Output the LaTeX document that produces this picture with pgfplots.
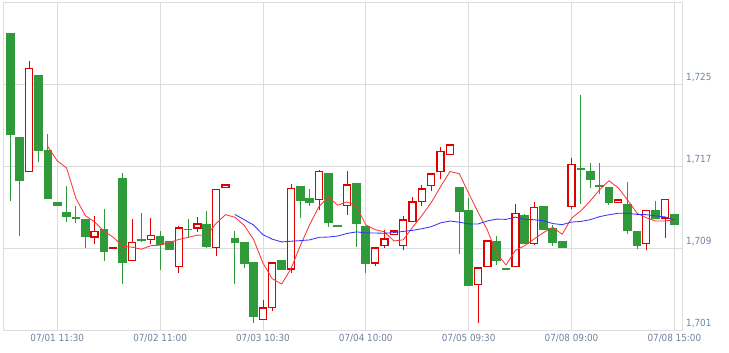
\documentclass[border=0pt]{standalone}
\usepackage{fontspec}
\setmainfont{DejaVu Sans}[FakeStretch=0.9]
\usepackage{pgfplots}
\usepackage{pgfplotstable}
\pgfplotsset{compat=1.18}
\definecolor{cgreen}{HTML}{2E9A3A}
\definecolor{cred}{HTML}{E00000}
\definecolor{mared}{HTML}{FF3535}
\definecolor{mablue}{HTML}{3535FF}
\definecolor{gridc}{HTML}{DCDCDC}
\definecolor{tickc}{HTML}{6E82A0}

\pgfplotstableread{
x o h l c
0 1730.0 1730.0 1713.6 1720.0
1 1719.8 1719.8 1710.2 1715.5
3 1725.9 1725.9 1717.4 1718.5
4 1718.6 1720.1 1713.8 1713.8
5 1713.5 1713.5 1713.1 1713.1
6 1712.5 1715.0 1711.5 1712.0
7 1712.0 1713.1 1711.4 1711.8
8 1711.8 1711.8 1709.0 1710.1
10 1710.85 1712.8 1707.7 1708.6
12 1715.8 1716.3 1705.5 1707.5
14 1709.85 1712.4 1709.55 1709.7
16 1710.2 1710.7 1706.9 1709.3
17 1709.65 1709.65 1708.85 1708.85
19 1710.9 1711.8 1709.95 1710.75
21 1711.35 1712.6 1709.0 1709.1
24 1710.0 1710.7 1705.5 1709.5
25 1709.6 1709.6 1707.0 1707.4
26 1707.6 1707.6 1701.65 1702.3
29 1707.8 1707.8 1706.9 1706.9
31 1715.05 1715.05 1711.95 1713.6
32 1713.9 1714.8 1713.1 1713.4
34 1716.3 1716.3 1711.0 1711.4
35 1711.2 1711.2 1711.0 1711.0
37 1715.35 1715.35 1709.05 1711.3
38 1711.15 1711.15 1706.55 1707.4
48 1714.95 1714.95 1708.4 1712.5
49 1712.7 1713.9 1705.3 1705.3
52 1709.7 1710.2 1707.35 1707.7
53 1707.05 1707.05 1706.9 1706.9
55 1712.2 1712.3 1709.4 1709.4
57 1713.1 1713.1 1710.8 1710.8
58 1710.95 1711.2 1709.2 1709.5
59 1709.7 1709.7 1709.0 1709.0
61 1716.85 1723.9 1713.3 1716.65
62 1716.5 1717.3 1714.9 1715.6
63 1715.1 1717.3 1714.25 1714.95
64 1714.95 1714.95 1713.2 1713.4
66 1713.3 1715.45 1710.35 1710.7
67 1710.65 1710.65 1708.87 1709.2
69 1712.7 1713.6 1711.8 1711.8
71 1712.3 1712.3 1711.25 1711.25
}\tgreen

\pgfplotstableread{
x o h l c
2 1716.4 1727.2 1716.4 1726.6
9 1710.0 1712.1 1709.4 1710.7
11 1708.92 1709.08 1708.92 1709.08
13 1707.7 1711.8 1707.7 1709.6
15 1709.75 1711.9 1709.4 1710.3
18 1707.1 1711.15 1706.6 1711.0
20 1710.9 1712.0 1710.6 1711.4
22 1708.97 1714.8 1708.2 1714.8
23 1714.9 1715.2 1714.9 1715.2
27 1701.95 1703.9 1701.95 1703.2
28 1703.1 1707.6 1702.9 1707.6
30 1706.9 1715.2 1706.6 1714.9
33 1713.65 1716.65 1712.7 1716.5
36 1713.1 1716.5 1712.2 1715.2
39 1707.47 1709.07 1707.27 1709.07
40 1709.17 1710.8 1709.03 1709.94
41 1710.24 1710.73 1710.24 1710.73
42 1709.17 1712.1 1708.77 1711.8
43 1711.5 1714.0 1711.5 1713.55
44 1713.46 1715.1 1713.07 1714.82
45 1715.0 1716.3 1714.6 1716.3
46 1716.4 1718.9 1715.7 1718.5
47 1718.07 1719.11 1718.07 1719.11
50 1705.36 1707.1 1701.65 1707.1
51 1707.1 1709.75 1707.1 1709.75
54 1707.1 1713.3 1707.1 1712.4
56 1709.36 1713.5 1709.26 1713.0
60 1713.0 1717.8 1712.8 1717.2
65 1713.36 1713.75 1713.36 1713.75
68 1709.36 1712.7 1708.8 1712.7
70 1711.86 1713.8 1710.0 1713.8
}\tred

\pgfplotsset{candle/.style={draw=none, mark=none, forget plot, mark options={draw=none, fill=none}}}

\begin{document}
\begin{tikzpicture}
\begin{axis}[
  scale only axis, width=679pt, height=328pt,
  xmin=-0.77, xmax=71.85, ymin=1701, ymax=1733,
  axis line style={gridc, line width=0.8pt},
  grid=major, major grid style={gridc, line width=0.8pt},
  major tick length=0pt,
  xtick={5,16,27,38,49,60,71},
  xticklabels={07/01 11:30, 07/02 11:00, 07/03 10:30, 07/04 10:00, 07/05 09:30, 07/08 09:00, 07/08 15:00},
  ytick={1701,1709,1717,1725},
  yticklabel pos=right,
  ticklabel style={font=\fontsize{9.8}{10}\selectfont, text=tickc},
  xticklabel style={anchor=base, inner sep=0pt, yshift=-11.7pt},
  yticklabel style={anchor=base west, inner sep=0pt, xshift=3.7pt, yshift=3pt},
  /pgf/number format/.cd, 1000 sep={,}, assume math mode=true,
]
% wicks
\addplot[candle, error bars/.cd, y dir=plus, y explicit, error mark=none,
  error bar style={draw=cgreen, line width=0.9pt}]
  table[x=x, y=l, y error plus expr={\thisrow{h}-\thisrow{l}}] \tgreen;
\addplot[candle, error bars/.cd, y dir=plus, y explicit, error mark=none,
  error bar style={draw=cred, line width=0.9pt}]
  table[x=x, y=l, y error plus expr={\thisrow{h}-\thisrow{l}}] \tred;
% green bodies
\addplot[candle, error bars/.cd, y dir=plus, y explicit, error mark=none,
  error bar style={draw=cgreen, line width=8.7pt}]
  table[x=x, y=c, y error plus expr={\thisrow{o}-\thisrow{c}}] \tgreen;
% red hollow bodies
\addplot[candle, error bars/.cd, y dir=plus, y explicit, error mark=none,
  error bar style={draw=cred, line width=8.3pt}]
  table[x=x, y=o, y error plus expr={\thisrow{c}-\thisrow{o}}] \tred;
\addplot[candle, error bars/.cd, y dir=plus, y explicit, error mark=none,
  error bar style={draw=white, line width=5.7pt}]
  table[x=x, y expr={\thisrow{o}+0.13}, y error plus expr={max(\thisrow{c}-\thisrow{o}-0.26,0)}] \tred;
% MA5
\addplot[mared, line width=0.85pt, mark=none] coordinates {
(4,1718.88)(5,1717.5)(6,1716.8)(7,1713.84)(8,1712.16)(9,1711.54)(10,1710.64)(11,1710.04)(12,1709.18)(13,1709.08)(14,1708.88)(15,1709.22)(16,1709.28)(17,1709.55)(18,1709.83)(19,1710.04)(20,1710.26)(21,1710.22)(22,1711.41)(23,1712.25)(24,1712.0)(25,1711.2)(26,1709.84)(27,1707.52)(28,1706.0)(29,1705.48)(30,1706.98)(31,1709.24)(32,1711.28)(33,1713.06)(34,1713.96)(35,1713.18)(36,1713.5)(37,1713.08)(38,1711.26)(39,1710.79)(40,1710.58)(41,1709.69)(42,1709.79)(43,1711.02)(44,1712.17)(45,1713.44)(46,1714.99)(47,1716.46)(48,1716.25)(49,1714.34)(50,1712.5)(51,1710.75)(52,1708.47)(53,1707.35)(54,1708.77)(55,1709.23)(56,1709.88)(57,1710.5)(58,1711.02)(59,1710.34)(60,1711.9)(61,1712.63)(62,1713.59)(63,1714.68)(64,1715.56)(65,1714.87)(66,1713.68)(67,1712.4)(68,1711.95)(69,1711.63)(70,1711.64)(71,1711.75)
};
% MA25
\addplot[mablue, line width=0.85pt, mark=none] coordinates {
(24,1712.27)(25,1711.76)(26,1711.24)(27,1710.3)(28,1709.86)(29,1709.59)(30,1709.66)(31,1709.72)(32,1709.79)(33,1710.04)(34,1710.07)(35,1710.17)(36,1710.42)(37,1710.57)(38,1710.48)(39,1710.46)(40,1710.44)(41,1710.5)(42,1710.62)(43,1710.72)(44,1710.88)(45,1711.08)(46,1711.45)(47,1711.63)(48,1711.52)(49,1711.35)(50,1711.34)(51,1711.64)(52,1711.82)(53,1711.79)(54,1712.01)(55,1711.79)(56,1711.76)(57,1711.66)(58,1711.38)(59,1711.28)(60,1711.53)(61,1711.59)(62,1711.76)(63,1712.06)(64,1712.24)(65,1712.39)(66,1712.39)(67,1712.28)(68,1712.25)(69,1712.13)(70,1712.03)(71,1711.74)
};
\end{axis}
\path[use as bounding box] (-3.3pt,-23pt) rectangle (725.7pt,330pt);
\end{tikzpicture}
\end{document}
